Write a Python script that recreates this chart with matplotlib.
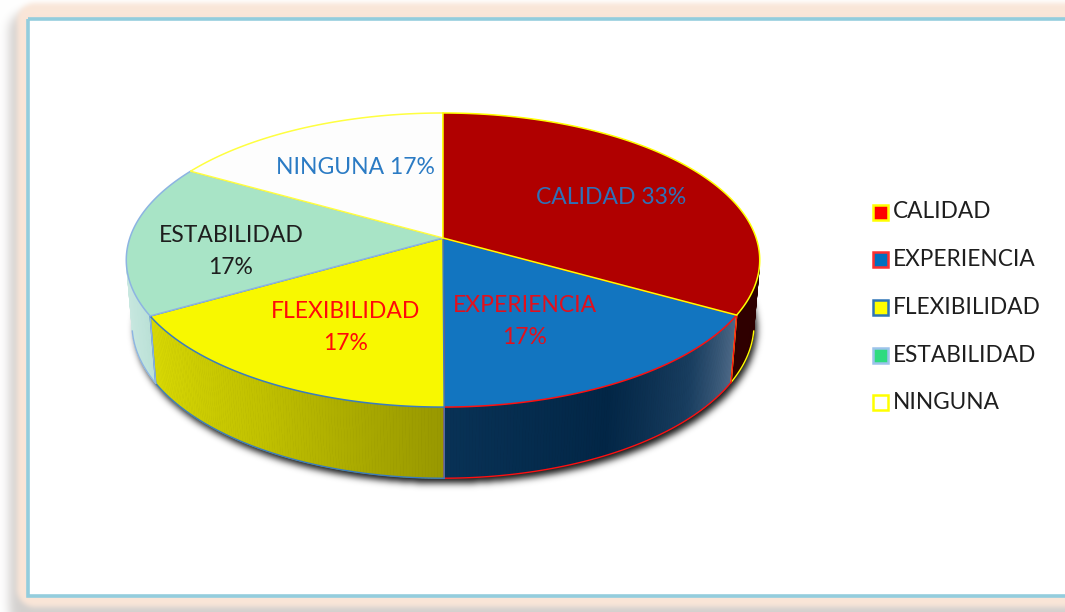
import numpy as np
import matplotlib
matplotlib.use("Agg")
import matplotlib.pyplot as plt
from matplotlib.patches import Polygon, Rectangle
from matplotlib.collections import PolyCollection
from matplotlib.path import Path

# ---- data ----
categories = ["CALIDAD", "EXPERIENCIA", "FLEXIBILIDAD", "ESTABILIDAD", "NINGUNA"]
percent = [33.3, 16.7, 16.7, 16.7, 16.7]
label_names = ["CALIDAD", "EXPERIENCIA", "FLEXIBILIDAD", "ESTABILIDAD", "NINGUNA"]
label_two_lines = [False, True, True, True, False]

# ---- styling ----
top_colors = ["#B00000", "#1275C0", "#F8F800", "#A8E4C6", "#FDFDFD"]
edge_colors = ["#FFFF00", "#FF1010", "#3A7CC0", "#8DB4E2", "#FFFF40"]
legend_face = ["#FF0000", "#0070C0", "#FFFF00", "#2EDB80", "#FFFFFF"]
legend_edge = ["#FFFF00", "#FF3030", "#2E75B6", "#9CC3EB", "#FFFF00"]
wall_stops = [
    [(0.0, (48, 0, 0)), (1.0, (30, 0, 0))],
    [(0.0, (8, 50, 86)), (0.45, (2, 38, 70)), (0.75, (25, 62, 96)), (1.0, (78, 106, 136))],
    [(0.0, (218, 218, 4)), (0.5, (192, 192, 0)), (1.0, (152, 152, 0))],
    [(0.0, (236, 247, 246)), (1.0, (188, 226, 216))],
    [(0.0, (240, 240, 240)), (1.0, (240, 240, 240))],
]
label_colors = ["#2E72B8", "#E2101C", "#FF0A0A", "#1E1E1E", "#2B7BC4"]
label_pos = [(611, 197), (525, 322), (346, 327), (231, 251), (355, 167)]

W, H = 1065, 612
FONT = "Lato"

# pie projection parameters (pixel space)
cx, cy = 443.0, 238.0
focal, dist = 1857.0, 5.93
sin_a = 0.459
cos_a = np.sqrt(1 - sin_a ** 2)
depth = 0.233


def project(theta_deg, z):
    t = np.radians(theta_deg)
    X, Y = np.cos(t), np.sin(t)
    yc = Y * sin_a + z * cos_a
    zc = dist + Y * cos_a - z * sin_a
    return cx + focal * X / zc, cy - focal * yc / zc


def blur(a, sigma):
    r = int(3 * sigma) + 1
    k = np.arange(-r, r + 1)
    w = np.exp(-k ** 2 / (2 * sigma ** 2))
    w /= w.sum()
    p = np.pad(a, ((0, 0), (r, r)), mode="edge")
    out = sum(w[i] * p[:, i:i + a.shape[1]] for i in range(2 * r + 1))
    p = np.pad(out, ((r, r), (0, 0)), mode="edge")
    return sum(w[i] * p[i:i + a.shape[0], :] for i in range(2 * r + 1))


def interp_color(stops, u):
    us = [s[0] for s in stops]
    return tuple(np.interp(u, us, [s[1][j] for s in stops]) / 255 for j in range(3))


yy, xx = np.mgrid[0:H, 0:W] + 0.5


def round_rect(x0, y0, x1, y1, r):
    dx = np.maximum(np.maximum(x0 + r - xx, 0), xx - (x1 - r))
    dy = np.maximum(np.maximum(y0 + r - yy, 0), yy - (y1 - r))
    dx = np.maximum(dx, 0)
    dy = np.maximum(dy, 0)
    return (np.hypot(dx, dy) <= r).astype(float)


# ---- background: peach card with soft shadow ----
bg = np.ones((H, W, 3))
shadow = blur(round_rect(9, 12, W + 80, H + 12, 18), 5.0)
bg = bg * (1 - 0.38 * shadow[..., None]) + 0.38 * shadow[..., None] * np.array([0.55, 0.52, 0.5])
peach = blur(round_rect(17, 3, W + 80, 607, 18), 2.5)
bg = bg * (1 - peach[..., None]) + peach[..., None] * np.array([250, 230, 216]) / 255
bg[20:595, 29:] = 1.0

fig = plt.figure(figsize=(W / 100, H / 100), dpi=100)
ax = fig.add_axes([0, 0, 1, 1])
ax.set_xlim(0, W)
ax.set_ylim(H, 0)
ax.axis("off")
ax.imshow(bg, extent=(0, W, H, 0), zorder=0, interpolation="bilinear")
ax.add_patch(Rectangle((28, 18.5), W, 577.5, fill=False, ec="#93CDDD", lw=2.6, zorder=1))

# ---- slice angles (clockwise from 12 o'clock) ----
frac = np.array(percent, dtype=float) / np.sum(percent)
cum = np.concatenate([[0], np.cumsum(frac)])
th_start = 90 - 360 * cum[:-1]
th_end = 90 - 360 * cum[1:]

vis = np.degrees(np.arcsin(1 / (dist * cos_a)))
vis_lo, vis_hi = -180 + vis, -vis

# ---- drop shadow beneath the pie ----
full = np.linspace(0, 360, 721)
bx, by = project(full, -depth)
mask = Path(np.column_stack([bx + 3, by + 5])).contains_points(
    np.column_stack([xx.ravel(), yy.ravel()])).reshape(H, W).astype(float)
mask = blur(mask, 3.5)
sh = np.zeros((H, W, 4))
sh[..., 3] = np.clip(mask * 0.92, 0, 1)
ax.imshow(sh, extent=(0, W, H, 0), zorder=2, interpolation="bilinear")

# ---- outer walls ----
for i in range(len(percent)):
    lo, hi = sorted([th_start[i], th_end[i]])
    a0, a1 = max(lo, vis_lo), min(hi, vis_hi)
    if a1 <= a0:
        continue
    ts = np.linspace(a0, a1, max(int((a1 - a0) * 2), 2) + 1)
    polys, cols = [], []
    for t1, t2 in zip(ts[:-1], ts[1:]):
        x1, y1 = project(t1, 0)
        x2, y2 = project(t2, 0)
        x3, y3 = project(t2, -depth)
        x4, y4 = project(t1, -depth)
        polys.append([(x1, y1), (x2, y2), (x3, y3), (x4, y4)])
        u = ((t1 + t2) / 2 - lo) / (hi - lo)
        cols.append(interp_color(wall_stops[i], u))
    ax.add_collection(PolyCollection(polys, facecolors=cols, edgecolors=cols, lw=0.6, zorder=3))
    bxs, bys = project(ts, -depth)
    ax.plot(bxs, bys, color=edge_colors[i], lw=1.0, zorder=4)
    for t in (a0, a1):
        if abs(t - lo) < 1e-9 or abs(t - hi) < 1e-9:
            px, py = project(np.array([t, t]), np.array([0, -depth]))
            ax.plot(px, py, color=edge_colors[i], lw=1.0, zorder=4)

# ---- top faces ----
for i in [1, 2, 3, 4, 0]:
    ts = np.linspace(th_start[i], th_end[i], 200)
    px, py = project(ts, 0)
    pts = np.column_stack([np.concatenate([[cx], px]), np.concatenate([[cy], py])])
    ax.add_patch(Polygon(pts, closed=True, fc=top_colors[i], ec=edge_colors[i], lw=1.1, zorder=5))

# ---- data labels ----
fs = 16.5
for name, val, two, col, (lx, ly) in zip(label_names, percent, label_two_lines, label_colors, label_pos):
    pct = f"{val:.0f}%"
    if two:
        ax.text(lx, ly - 16, name, color=col, fontsize=fs, family=FONT, ha="center", va="center", zorder=6)
        ax.text(lx, ly + 16, pct, color=col, fontsize=fs, family=FONT, ha="center", va="center", zorder=6)
    else:
        ax.text(lx, ly, f"{name} {pct}", color=col, fontsize=fs, family=FONT, ha="center", va="center", zorder=6)

# ---- legend ----
leg_y0, leg_dy = 212, 47.7
for i, name in enumerate(categories):
    y = leg_y0 + i * leg_dy
    ax.add_patch(Rectangle((873, y - 7.5), 15, 15, fc=legend_face[i], ec=legend_edge[i], lw=1.8, zorder=6))
    ax.text(893, y, name, color="#1E1E1E", fontsize=16.3, family=FONT, ha="left", va="center", zorder=6)

fig.savefig("out.png", dpi=100)
